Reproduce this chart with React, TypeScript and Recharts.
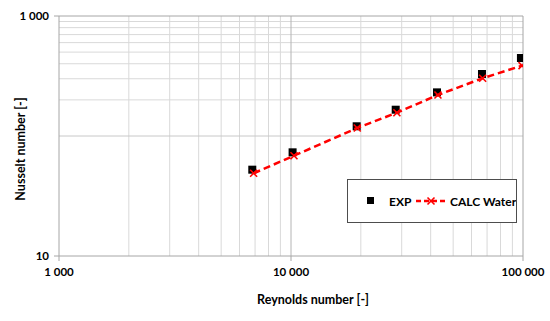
import React from "react";
import { ScatterChart, Scatter, XAxis, YAxis, ReferenceLine, Label } from "recharts";

// Reynolds / Nusselt values
const RE_EXP = [6810, 10160, 19190, 28270, 42590, 66560, 97970];
const NU_EXP = [52.4, 73.1, 120.5, 165.6, 231, 328.6, 446.7];
const RE_CALC = [6900, 10300, 19300, 28600, 43000, 67000, 99000];
const NU_CALC = [48.9, 68.5, 116.6, 156.4, 219.8, 302.7, 385.5];

const X_TICKS = [1000, 10000, 100000];
const Y_TICKS = [10, 1000];
const X_MINOR = [2000, 3000, 4000, 5000, 6000, 7000, 8000, 9000, 20000, 30000, 40000, 50000, 60000, 70000, 80000, 90000];
const Y_MINOR = [200, 300, 400, 500, 600, 700, 800, 900];
const Y_MAJOR = [100];

const FONT = "Lato, 'Open Sans', sans-serif";
const RED = "#ff0000";

const expData = RE_EXP.map((re, i) => ({ re, nu: NU_EXP[i] }));
const calcData = RE_CALC.map((re, i) => ({ re, nu: NU_CALC[i] }));

const fmt = (v: number) => String(v).replace(/\B(?=(\d{3})+(?!\d))/g, " ");

const Square = (props: any) => {
    const { cx, cy } = props;
    if (cx == null || cy == null) return null;
    return <rect x={cx - 4} y={cy - 4} width={8} height={8} fill="#000" />;
};

const Cross = (props: any) => {
    const { cx, cy } = props;
    if (cx == null || cy == null) return null;
    return (
        <g stroke={RED} strokeWidth={1.6}>
            <line x1={cx - 3.5} y1={cy - 3.5} x2={cx + 3.5} y2={cy + 3.5} />
            <line x1={cx - 3.5} y1={cy + 3.5} x2={cx + 3.5} y2={cy - 3.5} />
        </g>
    );
};

function LegendBox() {
    return (
        <div
            style={{
                position: "absolute",
                left: 347,
                top: 179,
                width: 168,
                height: 42,
                border: "1.5px solid #4d4d4d",
                background: "#fff",
                fontFamily: FONT,
                fontWeight: 700,
                fontSize: 12,
                color: "#000",
            }}
        >
            <svg width={168} height={42} style={{ position: "absolute", left: 0, top: 0 }}>
                <rect x={19} y={17} width={7} height={7} fill="#000" />
                <text x={41} y={21} dominantBaseline="central">EXP</text>
                <line x1={68} y1={21} x2={99} y2={21} stroke={RED} strokeWidth={2.5} strokeDasharray="5 3" />
                <Cross cx={83} cy={21} />
                <text x={102} y={21} dominantBaseline="central">CALC Water</text>
            </svg>
        </div>
    );
}

export default function App() {
    return (
        <div style={{ position: "absolute", left: 0, top: 0, width: 550, height: 321, background: "#fff", fontFamily: FONT }}>
            <ScatterChart width={550} height={321} margin={{ top: 16, right: 27, bottom: 0, left: 0 }}>
                {X_MINOR.map((v) => (
                    <ReferenceLine key={"x" + v} x={v} stroke="#d9d9d9" strokeWidth={1} />
                ))}
                {Y_MINOR.map((v) => (
                    <ReferenceLine key={"y" + v} y={v} stroke="#d9d9d9" strokeWidth={1} />
                ))}
                {Y_MAJOR.map((v) => (
                    <ReferenceLine key={"ym" + v} y={v} stroke="#c8c8c8" strokeWidth={1} />
                ))}
                <ReferenceLine x={10000} stroke="#b4b4b4" strokeWidth={1} />
                <ReferenceLine x={100000} stroke="#a6a6a6" strokeWidth={1} />
                <ReferenceLine y={1000} stroke="#a6a6a6" strokeWidth={1} />
                <XAxis
                    dataKey="re"
                    type="number"
                    scale="log"
                    domain={[1000, 100000]}
                    ticks={X_TICKS}
                    tickFormatter={fmt}
                    allowDataOverflow
                    height={65}
                    tickSize={5}
                    tickMargin={7}
                    stroke="#a6a6a6"
                    tick={{ fill: "#000", fontSize: 11.5, fontWeight: 700, fontFamily: FONT }}
                >
                    <Label
                        value="Reynolds number [-]"
                        position="insideBottom"
                        offset={17}
                        dx={22}
                        style={{ fill: "#000", fontSize: 12.5, fontWeight: 700, fontFamily: FONT }}
                    />
                </XAxis>
                <YAxis
                    dataKey="nu"
                    type="number"
                    scale="log"
                    domain={[10, 1000]}
                    ticks={Y_TICKS}
                    tickFormatter={fmt}
                    allowDataOverflow
                    width={59}
                    tickSize={5}
                    tickMargin={5}
                    stroke="#a6a6a6"
                    tick={{ fill: "#000", fontSize: 11.5, fontWeight: 700, fontFamily: FONT }}
                >
                    <Label
                        content={(p: any) => {
                            const vb = p.viewBox || {};
                            const x = (vb.x || 0) + 20;
                            const y = 149;
                            return (
                                <text
                                    x={x}
                                    y={y}
                                    transform={`rotate(-90 ${x} ${y})`}
                                    textAnchor="middle"
                                    dominantBaseline="central"
                                    style={{ fill: "#000", fontSize: 12.5, fontWeight: 700, fontFamily: FONT }}
                                >
                                    Nusselt number [-]
                                </text>
                            );
                        }}
                    />
                </YAxis>
                <Scatter data={expData} shape={Square} isAnimationActive={false} />
                <Scatter
                    data={calcData}
                    shape={Cross}
                    line={{ stroke: RED, strokeWidth: 2.5, strokeDasharray: "7 4" }}
                    lineType="joint"
                    isAnimationActive={false}
                />
            </ScatterChart>
            <LegendBox />
        </div>
    );
}
